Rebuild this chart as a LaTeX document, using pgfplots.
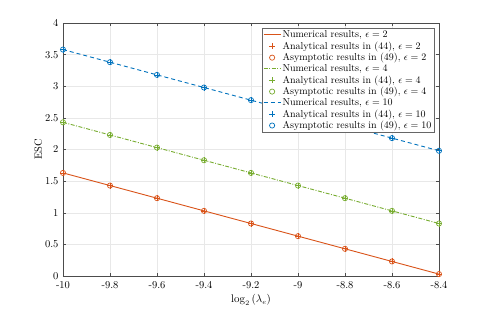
\documentclass[border=0pt]{standalone}
\usepackage{pgfplots}
\pgfplotsset{compat=1.18}
\definecolor{mo}{rgb}{0.850,0.325,0.098}
\definecolor{mg}{rgb}{0.466,0.674,0.188}
\definecolor{mb}{rgb}{0.000,0.447,0.741}
\pgfplotstableread{
x e2 e4 e10
-10.0 1.63 2.43 3.58
-9.8 1.43 2.23 3.38
-9.6 1.23 2.03 3.18
-9.4 1.03 1.83 2.98
-9.2 0.83 1.63 2.78
-9.0 0.63 1.43 2.58
-8.8 0.43 1.23 2.38
-8.6 0.23 1.03 2.18
-8.4 0.03 0.83 1.98
}\data
\begin{document}
\begin{tikzpicture}
\path[use as bounding box] (-63pt,-35pt) rectangle (422pt,276pt);
\begin{axis}[
  at={(0,0)}, anchor=south west,
  scale only axis, width=376pt, height=253pt,
  xmin=-10, xmax=-8.4, ymin=0, ymax=4,
  xtick={-10,-9.8,...,-8.4},
  xticklabels={-10,-9.8,-9.6,-9.4,-9.2,-9,-8.8,-8.6,-8.4},
  ytick={0,0.5,...,4},
  yticklabels={0,0.5,1,1.5,2,2.5,3,3.5,4},
  tick align=inside, tick pos=both,
  major tick length=3pt,
  grid=major,
  major grid style={draw=black!9, line width=0.4pt},
  axis line style={draw=black!70, line width=0.5pt},
  every tick/.style={draw=black!70, line width=0.5pt},
  tick label style={font=\fontsize{10.5}{12}\selectfont},
  xticklabel style={yshift=-1.5pt},
  yticklabel style={xshift=-1pt},
  xlabel={$\log_2\left(\lambda_e\right)$},
  ylabel={ESC},
  label style={font=\fontsize{10.5}{12}\selectfont},
  xlabel style={yshift=1pt},
  ylabel style={yshift=-4pt},
  legend cell align=left,
  legend style={at={(1,1)}, anchor=north east, xshift=-5pt, yshift=-5pt,
    font=\normalsize, draw=black!60, inner sep=1pt, row sep=-0.5pt,
    nodes={inner sep=1.5pt}},
]
\addplot[mo, line width=0.9pt, legend image code/.code={\draw[draw=mo, line width=0.9pt] (0cm,0cm) -- (0.6cm,0cm);}] table[x=x,y=e2]{\data};
\addlegendentry{Numerical results, $\epsilon=2$}
\addplot[mo, only marks, mark=+, mark size=3pt, line width=0.7pt] table[x=x,y=e2]{\data};
\addlegendentry{Analytical results in (44), $\epsilon=2$}
\addplot[mo, only marks, mark=o, mark size=2.6pt, line width=0.7pt] table[x=x,y=e2]{\data};
\addlegendentry{Asymptotic results in (49), $\epsilon=2$}
\addplot[mg, line width=0.9pt, dash pattern=on 4pt off 1.5pt on 1pt off 1.5pt] table[x=x,y=e4]{\data};
\addlegendentry{Numerical results, $\epsilon=4$}
\addplot[mg, only marks, mark=+, mark size=3pt, line width=0.7pt] table[x=x,y=e4]{\data};
\addlegendentry{Analytical results in (44), $\epsilon=4$}
\addplot[mg, only marks, mark=o, mark size=2.6pt, line width=0.7pt] table[x=x,y=e4]{\data};
\addlegendentry{Asymptotic results in (49), $\epsilon=4$}
\addplot[mb, line width=0.9pt, dash pattern=on 4pt off 3pt] table[x=x,y=e10]{\data};
\addlegendentry{Numerical results, $\epsilon=10$}
\addplot[mb, only marks, mark=+, mark size=3pt, line width=0.7pt] table[x=x,y=e10]{\data};
\addlegendentry{Analytical results in (44), $\epsilon=10$}
\addplot[mb, only marks, mark=o, mark size=2.6pt, line width=0.7pt] table[x=x,y=e10]{\data};
\addlegendentry{Asymptotic results in (49), $\epsilon=10$}
\end{axis}
\end{tikzpicture}
\end{document}
